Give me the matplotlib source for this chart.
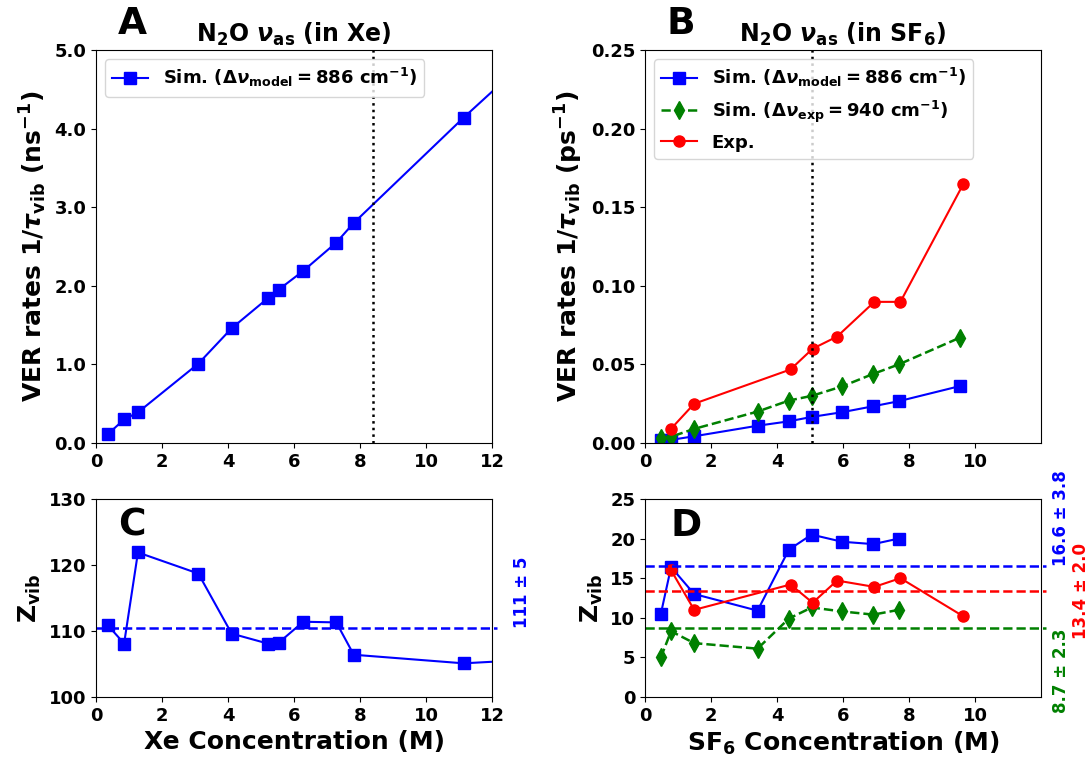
import matplotlib
matplotlib.use("Agg")
import matplotlib.pyplot as plt
from matplotlib.ticker import FormatStrFormatter

plt.rcParams['font.family'] = ['DejaVu Sans']
plt.rcParams['font.weight'] = 'bold'
plt.rcParams['axes.labelweight'] = 'bold'
plt.rcParams['axes.titleweight'] = 'bold'
plt.rcParams['mathtext.fontset'] = 'dejavusans'
plt.rcParams['mathtext.default'] = 'bf'

# Xe data (last point lies past the x-limit)
xe_conc = [0.35, 0.85, 1.27, 3.10, 4.11, 5.20, 5.53, 6.28, 7.28, 7.81, 11.14, 12.6]
xe_rate = [0.11, 0.30, 0.39, 1.01, 1.46, 1.84, 1.95, 2.19, 2.55, 2.80, 4.14, 4.70]
xe_z = [110.9, 108.1, 121.9, 118.7, 109.6, 108.1, 108.2, 111.4, 111.3, 106.4, 105.1, 105.5]
xe_z_mean = 110.5
xe_crit = 8.4

# SF6 data
sf6_sim_conc = [0.48, 0.79, 1.49, 3.41, 4.36, 5.05, 5.97, 6.92, 7.69, 9.54]
sim_model_rate = [0.0017, 0.0020, 0.0043, 0.011, 0.0138, 0.0166, 0.0196, 0.0234, 0.0266, 0.0362]
sim_exp_rate = [0.003, 0.004, 0.009, 0.020, 0.027, 0.030, 0.036, 0.044, 0.050, 0.067]
sf6_exp_conc = [0.79, 1.49, 4.41, 5.08, 5.82, 6.95, 7.74, 9.64]
exp_rate = [0.0091, 0.025, 0.0468, 0.060, 0.0677, 0.0898, 0.0898, 0.1645]

sf6_z_conc = sf6_sim_conc[:9]
z_model = [10.5, 16.4, 13.0, 10.9, 18.6, 20.5, 19.6, 19.3, 20.0]
z_simexp = [5.0, 8.3, 6.8, 6.1, 9.9, 11.3, 10.8, 10.4, 11.0]
z_exp = [16.0, 11.0, 14.2, 11.9, 14.7, 13.9, 15.0, 10.2]
z_means = [16.6, 13.4, 8.7]
z_labels = ["16.6 ± 3.8", "13.4 ± 2.0", "8.7 ± 2.3"]
sf6_crit = 5.05

lab_model = r"Sim. ($\Delta\boldsymbol{\nu}_{model}=886\ cm^{-1}$)"
lab_exp = r"Sim. ($\Delta\boldsymbol{\nu}_{exp}=940\ cm^{-1}$)"

fig = plt.figure(figsize=(10.89, 7.59), dpi=100)
axA = fig.add_axes([0.0882, 0.4163, 0.3636, 0.5178])
axB = fig.add_axes([0.5923, 0.4163, 0.3636, 0.5178])
axC = fig.add_axes([0.0882, 0.0817, 0.3636, 0.2609])
axD = fig.add_axes([0.5923, 0.0817, 0.3636, 0.2609])

# A
axA.plot(xe_conc, xe_rate, '-s', color='blue', ms=8, lw=1.5, label=lab_model)
axA.axvline(xe_crit, color='k', ls=':', lw=1.8)
axA.set_xlim(0, 12)
axA.set_ylim(0, 5)
axA.set_xticks(range(0, 13, 2))
axA.set_yticks([0, 1, 2, 3, 4, 5])
axA.yaxis.set_major_formatter(FormatStrFormatter('%.1f'))
axA.set_ylabel(r"VER rates 1/$\boldsymbol{\tau}_{vib}$ (ns$^{-1}$)", fontsize=18)
axA.set_title(r"N$_2$O $\boldsymbol{\nu}_{as}$ (in Xe)", fontsize=17)
axA.legend(loc='upper left', fontsize=13)
axA.text(0.055, 1.02, "A", transform=axA.transAxes, fontsize=27, fontweight='bold', va='bottom')

# B
axB.plot(sf6_sim_conc, sim_model_rate, '-s', color='blue', ms=8, lw=1.5, label=lab_model)
axB.plot(sf6_sim_conc, sim_exp_rate, '--d', color='green', ms=9, lw=1.8, label=lab_exp)
axB.plot(sf6_exp_conc, exp_rate, '-o', color='red', ms=8, lw=1.5, label="Exp.")
axB.axvline(sf6_crit, color='k', ls=':', lw=1.8)
axB.set_xlim(0, 12)
axB.set_ylim(0, 0.25)
axB.set_xticks(range(0, 11, 2))
axB.set_yticks([0, 0.05, 0.10, 0.15, 0.20, 0.25])
axB.yaxis.set_major_formatter(FormatStrFormatter('%.2f'))
axB.set_ylabel(r"VER rates 1/$\boldsymbol{\tau}_{vib}$ (ps$^{-1}$)", fontsize=18)
axB.set_title(r"N$_2$O $\boldsymbol{\nu}_{as}$ (in SF$_6$)", fontsize=17)
axB.legend(loc='upper left', fontsize=13)
axB.text(0.055, 1.02, "B", transform=axB.transAxes, fontsize=27, fontweight='bold', va='bottom')

# C
axC.plot(xe_conc, xe_z, '-s', color='blue', ms=8, lw=1.5)
axC.axhline(xe_z_mean, xmax=1.012, color='blue', ls='--', lw=1.8, clip_on=False)
axC.set_xlim(0, 12)
axC.set_ylim(100, 130)
axC.set_xticks(range(0, 13, 2))
axC.set_yticks([100, 110, 120, 130])
axC.set_xlabel("Xe Concentration (M)", fontsize=18)
axC.set_ylabel(r"Z$_{vib}$", fontsize=18)
axC.text(12.65, xe_z_mean, "111 ± 5", color='blue', fontsize=12, rotation=90,
         ha='left', va='bottom', clip_on=False)
axC.text(0.055, 0.955, "C", transform=axC.transAxes, fontsize=27, fontweight='bold', va='top')

# D
axD.plot(sf6_z_conc, z_model, '-s', color='blue', ms=8, lw=1.5)
axD.plot(sf6_z_conc, z_simexp, '--d', color='green', ms=9, lw=1.8)
axD.plot(sf6_exp_conc, z_exp, '-o', color='red', ms=8, lw=1.5)
for m, c in zip(z_means, ['blue', 'red', 'green']):
    axD.axhline(m, xmax=1.012, color=c, ls='--', lw=1.8, clip_on=False)
axD.set_xlim(0, 12)
axD.set_ylim(0, 25)
axD.set_xticks(range(0, 11, 2))
axD.set_yticks(range(0, 26, 5))
axD.set_xlabel(r"SF$_6$ Concentration (M)", fontsize=18)
axD.set_ylabel(r"Z$_{vib}$", fontsize=18)
axD.text(12.33, z_means[0], z_labels[0], color='blue', fontsize=12, rotation=90,
         ha='left', va='bottom', clip_on=False)
axD.text(12.95, z_means[1], z_labels[1], color='red', fontsize=12, rotation=90,
         ha='left', va='center', clip_on=False)
axD.text(12.33, z_means[2], z_labels[2], color='green', fontsize=12, rotation=90,
         ha='left', va='top', clip_on=False)
axD.text(0.065, 0.955, "D", transform=axD.transAxes, fontsize=27, fontweight='bold', va='top')

for ax in (axA, axB, axC, axD):
    ax.tick_params(labelsize=13)

fig.savefig("out.png", dpi=100)
